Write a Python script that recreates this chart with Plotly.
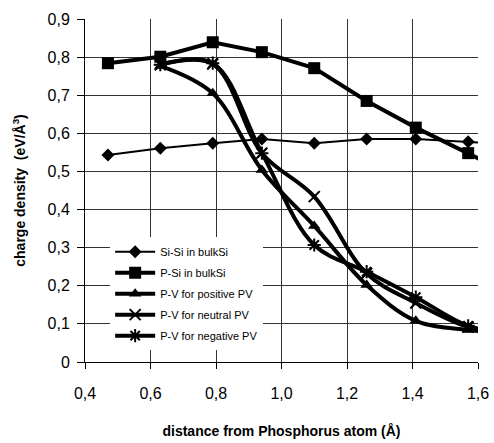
import plotly.graph_objects as go

x_all = [0.47, 0.63, 0.79, 0.94, 1.10, 1.26, 1.41, 1.57, 1.73]
x_pv = [0.63, 0.79, 0.94, 1.10, 1.26, 1.41, 1.57, 1.73]

si_si = [0.543, 0.561, 0.574, 0.585, 0.574, 0.585, 0.585, 0.578, 0.570]
p_si = [0.784, 0.801, 0.839, 0.813, 0.771, 0.685, 0.615, 0.548, 0.480]
pv_pos = [0.777, 0.705, 0.504, 0.357, 0.202, 0.108, 0.084, 0.075]
pv_neu = [0.780, 0.782, 0.548, 0.434, 0.232, 0.155, 0.092, 0.070]
pv_neg = [0.780, 0.784, 0.548, 0.307, 0.237, 0.170, 0.095, 0.070]

names = ["Si-Si in bulkSi", "P-Si in bulkSi", "P-V for positive PV",
         "P-V for neutral PV", "P-V for negative PV"]

x_ticks = [0.4, 0.6, 0.8, 1.0, 1.2, 1.4, 1.6]
y_ticks = [0, 0.1, 0.2, 0.3, 0.4, 0.5, 0.6, 0.7, 0.8, 0.9]
y_ticktext = ["0", "0,1", "0,2", "0,3", "0,4", "0,5", "0,6", "0,7", "0,8", "0,9"]

fig = go.Figure()

fig.add_trace(go.Scatter(x=x_all, y=si_si, name=names[0], mode="lines+markers",
                         line=dict(color="black", width=2),
                         marker=dict(symbol="diamond", size=10, color="black"),
                         legendgroup="a"))
fig.add_trace(go.Scatter(x=x_all, y=p_si, name=names[1], mode="lines+markers",
                         line=dict(color="black", width=4),
                         marker=dict(symbol="square", size=12, color="black"),
                         legendgroup="b"))
fig.add_trace(go.Scatter(x=x_pv, y=pv_pos, name=names[2], mode="lines+markers",
                         line=dict(color="black", width=4, shape="spline", smoothing=1),
                         marker=dict(symbol="triangle-up", size=11, color="black"),
                         legendgroup="c"))
fig.add_trace(go.Scatter(x=x_pv, y=pv_neu, name=names[3], mode="lines+markers",
                         line=dict(color="black", width=4, shape="spline", smoothing=1),
                         marker=dict(symbol="x-thin", size=11, color="black",
                                     line=dict(width=2, color="black")),
                         legendgroup="d"))
fig.add_trace(go.Scatter(x=x_pv, y=pv_neg, name=names[4], mode="lines+markers",
                         line=dict(color="black", width=4, shape="spline", smoothing=1),
                         marker=dict(symbol="asterisk", size=11, color="black",
                                     line=dict(width=2, color="black")),
                         legendgroup="e"))

fig.update_layout(
    width=494, height=443,
    margin=dict(l=85, r=16, t=19, b=81),
    paper_bgcolor="white", plot_bgcolor="white",
    separators=", ",
    font=dict(family="Liberation Sans, Arial, sans-serif", color="black", size=16),
    showlegend=True,
    legend=dict(x=0.064, y=0.364, xanchor="left", yanchor="top",
                bgcolor="white", borderwidth=0,
                font=dict(size=11, family="Liberation Sans, Arial, sans-serif"),
                traceorder="grouped", tracegroupgap=2,
                itemwidth=40),
    xaxis=dict(range=[0.4, 1.6], tickvals=x_ticks, tickformat=".1f",
               showgrid=True, gridcolor="#333333", gridwidth=1,
               showline=True, linecolor="black", linewidth=1,
               ticks="outside", ticklen=6, tickcolor="black",
               ticklabelstandoff=11, zeroline=False, automargin=False,
               title=dict(text="<b>distance from Phosphorus atom (Å)</b>",
                          font=dict(size=14), standoff=24)),
    yaxis=dict(range=[0, 0.9], tickvals=y_ticks, ticktext=y_ticktext,
               showgrid=True, gridcolor="#333333", gridwidth=1,
               showline=True, linecolor="black", linewidth=1,
               ticks="outside", ticklen=7, tickcolor="black",
               ticklabelstandoff=4, zeroline=False, automargin=False,
               title=dict(text="<b>charge density  (eV/Å<sup>3</sup>)</b>",
                          font=dict(size=14), standoff=18)),
)

fig.write_html("out.html", config={"displayModeBar": False},
               post_script="document.body.style.margin='0';")
